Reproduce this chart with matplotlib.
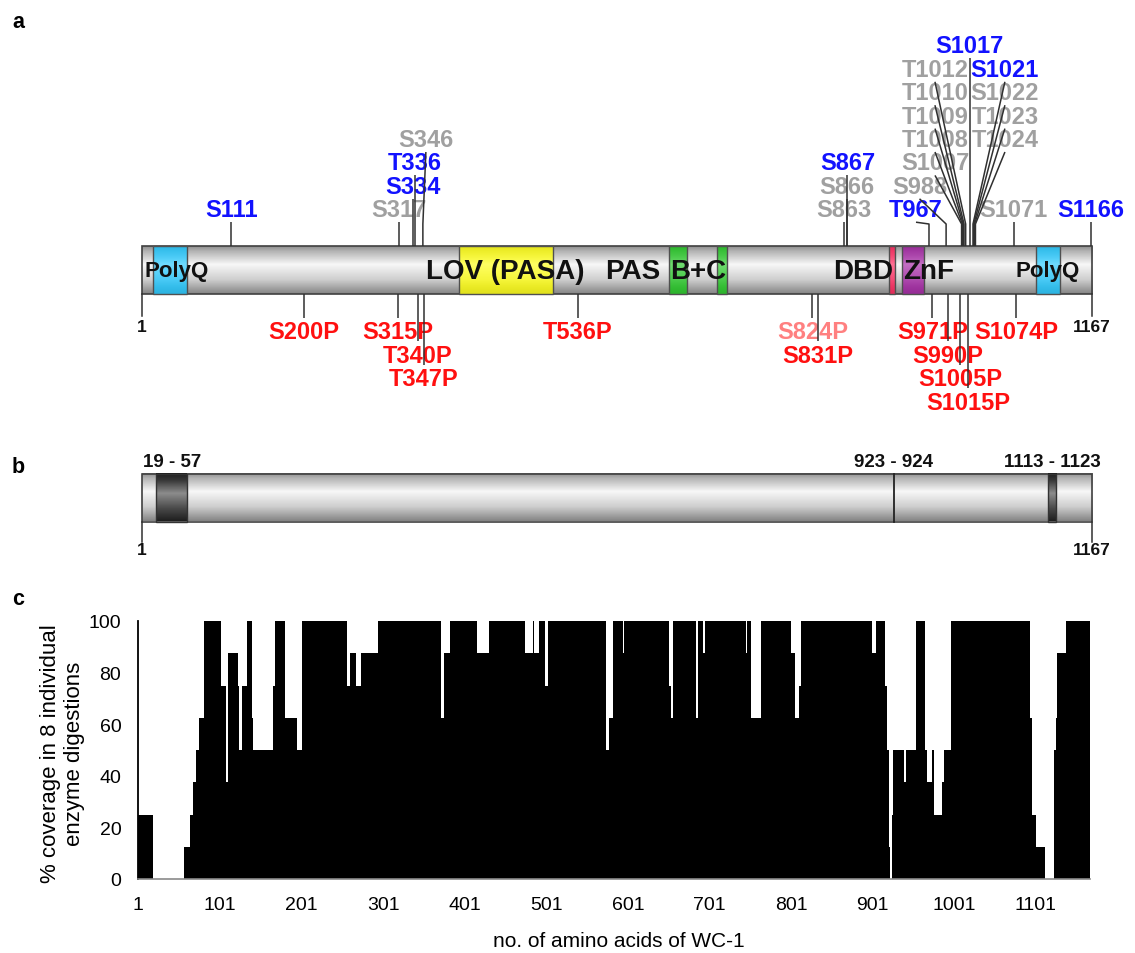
import numpy as np
import matplotlib
matplotlib.use('Agg')
import matplotlib.pyplot as plt
from matplotlib.patches import Rectangle

# ---------------- data ----------------
protein_length = 1167

# panel a: domains
domain_starts = [15, 390, 648, 707, 918, 934, 1098]
domain_ends = [56, 506, 670, 719, 925, 961, 1128]
domain_colors = ['#33CCFF', '#FFFF22', '#33CC33', '#33CC33', '#FF3366', '#AA33AA', '#33CCFF']

domain_labels = ['PolyQ', 'LOV (PASA)', 'PAS', 'B+C', 'DBD', 'ZnF', 'PolyQ']
domain_label_res = [44, 447, 603, 684, 886, 966, 1113]
domain_label_big = [False, True, True, True, True, True, False]

# panel a: phosphosites above the bar
sites_above = ['S111', 'S317', 'S334', 'T336', 'S346', 'S863', 'S866', 'S867',
               'T967', 'S988', 'S1007', 'T1008', 'T1009', 'T1010', 'T1012',
               'S1017', 'S1021', 'S1022', 'T1023', 'T1024', 'S1071', 'S1166']
above_kind = ['blue', 'gray', 'blue', 'blue', 'gray', 'gray', 'gray', 'blue',
              'blue', 'gray', 'gray', 'gray', 'gray', 'gray', 'gray',
              'blue', 'blue', 'gray', 'gray', 'gray', 'gray', 'blue']
above_row = [0, 0, 1, 2, 3, 0, 1, 2, 0, 1, 2, 3, 4, 5, 6, 7, 6, 5, 4, 3, 0, 0]
above_dx = [0, 0, 0, 0, 3, 0, 0, 0, -13, -26.6, -26.6, -27.4, -28.2, -29.1, -30.7,
            0, 31.9, 31.1, 30.3, 29.5, 0, 0]

# panel a: mutations below the bar
sites_below = ['S200P', 'S315P', 'T340P', 'T347P', 'T536P', 'S824P', 'S831P',
               'S971P', 'S990P', 'S1005P', 'S1015P', 'S1074P']
below_kind = ['red', 'red', 'red', 'red', 'red', 'pink', 'red',
              'red', 'red', 'red', 'red', 'red']
below_row = [0, 0, 1, 2, 0, 0, 1, 0, 1, 2, 3, 0]

# panel b: uncovered regions
gap_starts = [19, 923, 1113]
gap_ends = [57, 924, 1123]
gap_labels = ['19 - 57', '923 - 924', '1113 - 1123']

# panel c: coverage (segment start residue, % coverage)
cov_start = [1, 19, 58, 65, 68, 72, 76, 82, 103, 109, 111, 123, 125, 128, 135, 141,
             142, 166, 169, 181, 196, 202, 257, 261, 268, 274, 295, 373, 376, 384,
             410, 411, 416, 431, 475, 485, 487, 493, 500, 503, 575, 578, 583, 595,
             597, 652, 654, 657, 685, 687, 693, 696, 746, 747, 753, 765, 801, 806,
             811, 814, 901, 906, 917, 919, 922, 923, 925, 927, 940, 942, 955, 966,
             968, 974, 977, 987, 989, 997, 1095, 1097, 1102, 1113, 1124, 1126,
             1128, 1139]
cov_pct = [25, 0, 12.5, 25, 37.5, 50, 62.5, 100, 75, 37.5, 87.5, 75, 50, 75, 100, 62.5,
           50, 75, 100, 62.5, 50, 100, 75, 87.5, 75, 87.5, 100, 62.5, 87.5, 100,
           87.5, 100, 87.5, 100, 87.5, 100, 87.5, 100, 75, 100, 50, 62.5, 100, 87.5,
           100, 75, 62.5, 100, 62.5, 100, 87.5, 100, 87.5, 100, 62.5, 100, 87.5, 62.5,
           75, 100, 87.5, 100, 75, 50, 12.5, 0, 25, 50, 37.5, 50, 100, 50,
           37.5, 50, 25, 37.5, 50, 100, 62.5, 25, 12.5, 0, 50, 62.5,
           87.5, 100]
x_ticks = [1, 101, 201, 301, 401, 501, 601, 701, 801, 901, 1001, 1101]
y_ticks = [0, 20, 40, 60, 80, 100]

# ---------------- layout ----------------
W, H = 1135, 954
fig = plt.figure(figsize=(W / 100, H / 100), dpi=100)
FONT = ['Liberation Sans', 'DejaVu Sans']
NARROW = ['Liberation Sans Narrow', 'Liberation Sans', 'DejaVu Sans']
plt.rcParams['font.family'] = FONT

X0, PXR = 141.7, 0.815          # pixel of residue 1, pixels per residue (panels a, b)


def px2res(x):
    return 1 + (x - X0) / PXR


colmap = {'blue': '#1212FF', 'gray': '#A0A0A0', 'red': '#FF1010', 'pink': '#FF8080'}

# ---------- panel c ----------
c_left, c_right, c_top, c_bot = 138, 1090, 622, 880
axc = fig.add_axes([c_left / W, (H - c_bot) / H, (c_right - c_left) / W, (c_bot - c_top) / H])
edges = np.append(np.array(cov_start, dtype=float) - 0.5, protein_length + 0.5)
axc.stairs(cov_pct, edges, fill=True, color='black', baseline=0, lw=0)
axc.set_xlim(0.5, protein_length + 0.5)
axc.set_ylim(0, 100)
axc.set_xticks(x_ticks)
axc.set_yticks(y_ticks)
axc.tick_params(length=0, labelsize=14, colors='#000000')
axc.tick_params(axis='x', pad=12)
axc.tick_params(axis='y', pad=12)
for s in ['top', 'right']:
    axc.spines[s].set_visible(False)
axc.spines['left'].set_color('black')
axc.spines['left'].set_linewidth(1.3)
axc.spines['bottom'].set_color('#8a8a8a')
axc.spines['bottom'].set_linewidth(1.2)
axc.set_ylabel('% coverage in 8 individual\nenzyme digestions', fontsize=16, linespacing=1.15)
axc.yaxis.set_label_coords(-0.056, 0.49)
axc.set_xlabel('no. of amino acids of WC-1', fontsize=15)
axc.xaxis.set_label_coords(0.505, -0.2)

# ---------- overlay axes for panels a and b ----------
ax = fig.add_axes([0, 0, 1, 1])
ax.axis('off')


def shade_gray(t):
    return np.interp(t, [0, 0.1, 0.38, 0.7, 1], [0.56, 0.70, 0.97, 0.81, 0.52])


def cyl_img(base, kind='normal'):
    t = np.linspace(0, 1, 80)
    if kind == 'dark':
        s = np.interp(t, [0, 0.15, 0.42, 0.75, 1], [0.12, 0.22, 0.55, 0.28, 0.12])
        rgb = np.stack([s, s, s], axis=1)
    elif base is None:
        s = shade_gray(t)
        rgb = np.stack([s, s, s], axis=1)
    else:
        s = shade_gray(t)
        n = (s - 0.52) / 0.45
        b = np.array(matplotlib.colors.to_rgb(base))
        c = b[None, :] * (0.88 + 0.12 * n[:, None])
        c = c + (1 - c) * 0.3 * (n[:, None] ** 2)
        rgb = np.clip(c, 0, 1)
    return rgb[:, None, :]


def cyl(x0, x1, ytop, ybot, base=None, kind='normal', z=1, edge='#505050', lw=1.0):
    ax.imshow(cyl_img(base, kind), extent=[x0, x1, ybot, ytop], aspect='auto',
              interpolation='bilinear', zorder=z)
    ax.add_patch(Rectangle((x0, ytop), x1 - x0, ybot - ytop, fill=False,
                           edgecolor=edge, lw=lw, zorder=z + 0.1))


# ----- panel a -----
A_TOP, A_BOT = 247, 295
cyl(1, protein_length, A_TOP, A_BOT, z=1, edge='#404040', lw=1.2)
for s0, s1, c in zip(domain_starts, domain_ends, domain_colors):
    cyl(s0, s1, A_TOP, A_BOT, base=c, z=2)

for lab, r, big in zip(domain_labels, domain_label_res, domain_label_big):
    ax.text(r, 272, lab, ha='center', va='center', fontsize=20 if big else 16,
            fontweight='bold', color='#111111', zorder=3)

LINE_C = '#303030'
ROW = 23.4
for name, kind, row, dx in zip(sites_above, above_kind, above_row, above_dx):
    r = int(name[1:])
    lx = px2res(X0 + (r - 1) * PXR + dx)
    ly = 210.7 - ROW * row
    ax.text(lx, ly, name, ha='center', va='center', fontsize=17, fontweight='bold',
            color=colmap[kind], zorder=5)
    ax.plot([r, r, lx], [A_TOP, 225, ly + 12.5], color=LINE_C, lw=1.1, zorder=6,
            solid_capstyle='butt')

for name, kind, row in zip(sites_below, below_kind, below_row):
    r = int(name[1:-1])
    ly = 333 + ROW * row
    ax.text(r, ly, name, ha='center', va='center', fontsize=17, fontweight='bold',
            color=colmap[kind], zorder=5)
    ax.plot([r, r], [A_BOT, ly - 14], color=LINE_C, lw=1.1, zorder=6,
            solid_capstyle='butt')

for r, lab in [(1, '1'), (protein_length, str(protein_length))]:
    ax.plot([r, r], [A_BOT, 317], color=LINE_C, lw=1.1, zorder=6)
    ax.text(r, 328, lab, ha='center', va='center', fontsize=12.5, fontweight='bold',
            family=NARROW, color='#111111')

# ----- panel b -----
B_TOP, B_BOT = 475, 522.5
cyl(1, protein_length, B_TOP, B_BOT, z=1, edge='#404040', lw=1.2)
for g0, g1, lab in zip(gap_starts, gap_ends, gap_labels):
    if g1 - g0 < 3:
        ax.plot([(g0 + g1) / 2] * 2, [B_TOP, B_BOT], color='#222222', lw=1.3, zorder=3)
    else:
        cyl(g0, g1, B_TOP, B_BOT, kind='dark', z=2, edge='#333333', lw=1.0)
    ax.text((g0 + g1) / 2, 463, lab, ha='center', va='center', fontsize=13.5,
            fontweight='bold', family=NARROW, color='#111111')

for r, lab in [(1, '1'), (protein_length, str(protein_length))]:
    ax.plot([r, r], [B_BOT, 543], color=LINE_C, lw=1.1, zorder=6)
    ax.text(r, 551, lab, ha='center', va='center', fontsize=12.5, fontweight='bold',
            family=NARROW, color='#111111')

# panel letters
for lab, y in [('a', 22), ('b', 468), ('c', 600)]:
    ax.text(px2res(18), y, lab, ha='center', va='center', fontsize=15.5,
            fontweight='bold', color='black')

ax.set_xlim(px2res(0), px2res(W))
ax.set_ylim(H, 0)

fig.savefig('out.png', dpi=100)
